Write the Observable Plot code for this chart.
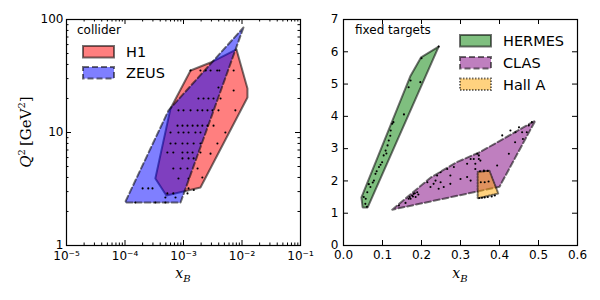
<!DOCTYPE html>
<html><head><meta charset="utf-8">
<script src="https://cdn.jsdelivr.net/npm/d3@7"></script>
<script src="https://cdn.jsdelivr.net/npm/@observablehq/plot@0.6"></script>
<style>
body{margin:0;background:#fff;}
#wrap{display:flex;width:600px;height:300px;background:#fff;}
#wrap svg{display:block;}
</style>
</head><body><div id="wrap"></div>
<script>
// ---------- data ----------
// Collider kinematic coverage (x_B, Q^2)
const h1PolyX   = [8.05e-3, 1.24e-2, 1.24e-2, 1.95e-3, 5.1e-4, 3.3e-4, 6.0e-4, 1.32e-3, 2.9e-3];
const h1PolyQ2  = [54.3, 24.5, 20.4, 3.26, 2.77, 3.92, 16.3, 35.4, 41.6];
const zeusPolyX  = [1.06e-2, 8.9e-4, 1.0e-4, 5.55e-4];
const zeusPolyQ2 = [85, 2.4, 2.4, 15.7];

const colliderDotX = [
  1.32e-3,1.95e-3,2.4e-3,2.9e-3,3.77e-3,4.1e-3,
  3.96e-3,
  1.8e-3,2.2e-3,2.67e-3,3.26e-3,4.3e-3,
  8.2e-4,1.0e-3,1.32e-3,1.74e-3,2.1e-3,2.57e-3,3.13e-3,3.96e-3,
  7.9e-4,9.6e-4,1.17e-3,1.43e-3,1.74e-3,2.1e-3,2.57e-3,3.26e-3,
  6e-4,8.2e-4,1e-3,1.22e-3,1.6e-3,1.95e-3,
  6e-4,7.3e-4,9.6e-4,1.17e-3,1.49e-3,1.95e-3,
  5.3e-4,6.7e-4,9.6e-4,1.17e-3,1.43e-3,1.95e-3,
  9.6e-4,1.22e-3,1.49e-3,
  6.7e-4,8.9e-4,1.17e-3,1.74e-3,
  8.2e-4,1.22e-3,
  2e-4,2.5e-4,2.95e-4,1.22e-3,
  5.3e-4,6.7e-4,1.17e-3,1.5e-3,
  4.9e-4,7.3e-4,
  1.5e-4,3.3e-4,4.9e-4,
  7.2e-3,7.2e-3,7.7e-3,5.2e-3,3.8e-3,2.9e-3,2.1e-3
];
const colliderDotQ2 = [
  35.4,35.4,35.4,35.4,35.4,35.4,
  25,
  20,20,20,20,20,
  15.7,15.7,15.7,15.7,15.7,15.7,15.7,15.7,
  11.5,11.5,11.5,11.5,11.5,11.5,11.5,11.5,
  10,10,10,10,10,10,
  8,8,8,8,8,8,
  6.65,6.65,6.65,6.65,6.65,6.65,
  5.9,5.9,5.9,
  4.8,4.8,4.8,4.8,
  3.92,3.92,
  3.2,3.2,3.2,3.2,
  2.89,2.89,2.89,3.1,
  2.66,2.66,
  2.4,2.4,2.4,
  35.4,23.5,15.7,10,8.0,6.5,4.0
];

// Fixed-target kinematic coverage (x_B, Q^2)
const hermesPolyX  = [0.244, 0.199, 0.172, 0.046, 0.049, 0.062];
const hermesPolyQ2 = [6.16, 5.83, 5.26, 1.49, 1.18, 1.18];
const clasPolyX  = [0.125, 0.223, 0.29, 0.351, 0.492, 0.40];
const clasPolyQ2 = [1.11, 2.1, 2.58, 2.9, 3.87, 1.82];
const hallAPolyX  = [0.344, 0.374, 0.397, 0.344];
const hallAPolyQ2 = [2.28, 2.32, 1.61, 1.46];

const hermesDotX  = [0.052,0.056,0.061,0.069,0.078,0.082,0.091,0.099,0.103,0.108,0.116,0.121,0.125,0.155,0.167,0.197,0.172,0.244,0.065,0.085,0.095,0.11,0.12,0.075,0.057,0.06,0.113,0.128,0.2];
const hermesDotQ2 = [1.50,1.29,1.65,1.81,2.01,2.22,2.43,2.58,2.79,2.94,3.25,3.56,3.77,4.06,4.9,5.06,5.11,6.16,1.9,2.3,2.5,2.85,3.4,1.95,1.45,1.2,3.1,3.82,5.8];
const clasDotX  = [0.142,0.159,0.167,0.172,0.176,0.18,0.185,0.189,0.178,0.183,0.192,0.17,0.215,0.223,0.231,0.236,0.24,0.244,0.249,0.249,0.257,0.266,0.274,0.274,0.283,0.3,0.317,0.317,0.326,0.326,0.334,0.338,0.338,0.343,0.347,0.347,0.351,0.36,0.394,0.407,0.424,0.428,0.441,0.45,0.458,0.47,0.475,0.483,0.44,0.46];
const clasDotQ2 = [1.24,1.32,1.45,1.45,1.55,1.6,1.5,1.65,1.52,1.62,1.58,1.5,1.96,1.81,1.91,2.01,2.17,1.76,1.96,2.27,1.81,2.37,2.17,1.91,2.43,2.06,2.53,2.12,2.68,2.01,2.68,2.37,2.53,2.84,2.68,2.79,2.63,2.32,2.48,3.41,2.84,3.56,3.51,3.66,3.51,3.51,3.72,3.82,3.2,3.3];
const hallADotX  = [0.35,0.36,0.37,0.352,0.362,0.372,0.348,0.355,0.362,0.37,0.38,0.388];
const hallADotQ2 = [2.3,2.3,2.31,1.96,1.96,1.98,1.47,1.48,1.49,1.5,1.52,1.55];

// ticks
const logMajorX = [1e-5,1e-4,1e-3,1e-2,1e-1];
const logMajorY = [1,10,100];
const linMajorX = [0,0.1,0.2,0.3,0.4,0.5,0.6];
const linMajorY = [0,1,2,3,4,5,6,7];

// ---------- helpers ----------
const poly = (xs, ys) => { const r = xs.map((x,i)=>({x, y: ys[i]})); r.push(r[0]); return r; };
const pts  = (xs, ys) => xs.map((x,i)=>({x, y: ys[i]}));
const minorOf = (majors) => majors.slice(0,-1).flatMap(m => [2,3,4,5,6,7,8,9].map(k => k*m));
const sup = s => String(s).replace(/-/g,"⁻").replace(/\d/g, d => "⁰¹²³⁴⁵⁶⁷⁸⁹"[d]);

const H = 300, MT = 19, MB = 55, PH = H - MT - MB;
const FONT = "DejaVu Sans, sans-serif";

function inTicks(xs, ys, pw, len) {
  return [
    Plot.ruleX(xs, {x: d=>d, insetTop: PH - len, stroke: "black", strokeWidth: 1}),
    Plot.ruleX(xs, {x: d=>d, insetBottom: PH - len, stroke: "black", strokeWidth: 1}),
    Plot.ruleY(ys, {y: d=>d, insetRight: pw - len, stroke: "black", strokeWidth: 1}),
    Plot.ruleY(ys, {y: d=>d, insetLeft: pw - len, stroke: "black", strokeWidth: 1})
  ];
}
const polyStyle = (fill, dash) => ({x: "x", y: "y", curve: "linear", fill, fillOpacity: 0.5,
  stroke: "black", strokeOpacity: 0.55, strokeWidth: 2, strokeDasharray: dash, strokeLinejoin: "miter"});
const dotStyle = {x: "x", y: "y", r: 1.05, fill: "black"};

// ---------- left panel ----------
const W1 = 302, ML1 = 66, MR1 = 2, PW1 = W1 - ML1 - MR1;
const left = Plot.plot({
  width: W1, height: H, marginLeft: ML1, marginRight: MR1, marginTop: MT, marginBottom: MB,
  style: {fontFamily: FONT, fontSize: "12px", color: "black", background: "transparent", overflow: "visible"},
  x: {type: "log", domain: [1e-5, 1e-1], ticks: logMajorX, tickSize: 0, tickPadding: 6,
      tickFormat: d => "10" + sup(Math.round(Math.log10(d))), label: null},
  y: {type: "log", domain: [1, 100], ticks: logMajorY, tickSize: 0, tickPadding: 3,
      tickFormat: d => String(d), label: null},
  marks: [
    Plot.line(poly(h1PolyX, h1PolyQ2), polyStyle("red", null)),
    Plot.line(poly(zeusPolyX, zeusPolyQ2), polyStyle("blue", "6,3")),
    Plot.dot(pts(colliderDotX, colliderDotQ2), dotStyle),
    ...inTicks(logMajorX, logMajorY, PW1, 5),
    ...inTicks(minorOf(logMajorX), minorOf(logMajorY), PW1, 2.5),
    Plot.frame({stroke: "black", strokeWidth: 1.2})
  ]
});

// ---------- right panel ----------
const W2 = 298, ML2 = 41, MR2 = 23, PW2 = W2 - ML2 - MR2;
const right = Plot.plot({
  width: W2, height: H, marginLeft: ML2, marginRight: MR2, marginTop: MT, marginBottom: MB,
  style: {fontFamily: FONT, fontSize: "12px", color: "black", background: "transparent", overflow: "visible"},
  x: {domain: [0, 0.6], ticks: linMajorX, tickSize: 0, tickPadding: 5, tickFormat: d => d.toFixed(1), label: null},
  y: {domain: [0, 7], ticks: linMajorY, tickSize: 0, tickPadding: 5, tickFormat: d => String(d), label: null},
  marks: [
    Plot.line(poly(hermesPolyX, hermesPolyQ2), polyStyle("green", null)),
    Plot.line(poly(clasPolyX, clasPolyQ2), polyStyle("purple", "6,3")),
    Plot.line(poly(hallAPolyX, hallAPolyQ2), polyStyle("orange", "1.5,1.5")),
    Plot.dot(pts(hermesDotX, hermesDotQ2), dotStyle),
    Plot.dot(pts(clasDotX, clasDotQ2), dotStyle),
    Plot.dot(pts(hallADotX, hallADotQ2), dotStyle),
    ...inTicks(linMajorX, linMajorY, PW2, 5),
    Plot.frame({stroke: "black", strokeWidth: 1.2})
  ]
});

// ---------- labels and legends ----------
function xLabel(svg, cx) {
  const t = d3.select(svg).append("text").attr("x", cx).attr("y", 278)
    .attr("text-anchor", "middle").attr("font-family", "DejaVu Serif, serif").attr("font-size", 14);
  t.append("tspan").attr("font-style", "italic").text("x");
  t.append("tspan").attr("font-style", "italic").attr("font-size", 10).attr("dy", 4).text("B");
}
function legend(svg, x0, entries, title, titleX, titleY) {
  const g = d3.select(svg).append("g").attr("font-family", FONT).attr("text-anchor", "start");
  g.append("text").attr("x", titleX).attr("y", titleY).attr("font-size", 12).text(title);
  for (const e of entries) {
    g.append("rect").attr("x", x0).attr("y", e.y).attr("width", 31).attr("height", 11.5)
      .attr("fill", e.fill).attr("fill-opacity", 0.5).attr("stroke", "black").attr("stroke-opacity", 0.55)
      .attr("stroke-width", 2).attr("stroke-dasharray", e.dash);
    g.append("text").attr("x", x0 + 43).attr("y", e.y + 11.3).attr("font-size", 14.5).text(e.label);
  }
}

xLabel(left, (ML1 + W1 - MR1) / 2);
xLabel(right, ML2 + PW2 / 2);

const yl = d3.select(left).append("text").attr("transform", "translate(31,132) rotate(-90)")
  .attr("text-anchor", "middle").attr("font-family", "DejaVu Serif, serif").attr("font-size", 15);
yl.append("tspan").attr("font-style", "italic").text("Q");
yl.append("tspan").attr("font-size", 10).attr("dy", -6).text("2");
yl.append("tspan").attr("dy", 6).text("\u2009[GeV");
yl.append("tspan").attr("font-size", 10).attr("dy", -6).text("2");
yl.append("tspan").attr("dy", 6).text("]");

legend(left, 83, [
  {label: "H1", fill: "red", dash: null, y: 46},
  {label: "ZEUS", fill: "blue", dash: "6,3", y: 67}
], "collider", 77, 34);
legend(right, 158, [
  {label: "HERMES", fill: "green", dash: null, y: 35},
  {label: "CLAS", fill: "purple", dash: "6,3", y: 57},
  {label: "Hall A", fill: "orange", dash: "1.5,1.5", y: 78.5}
], "fixed targets", 53, 33.5);

document.getElementById("wrap").append(left, right);
</script>
</body></html>
